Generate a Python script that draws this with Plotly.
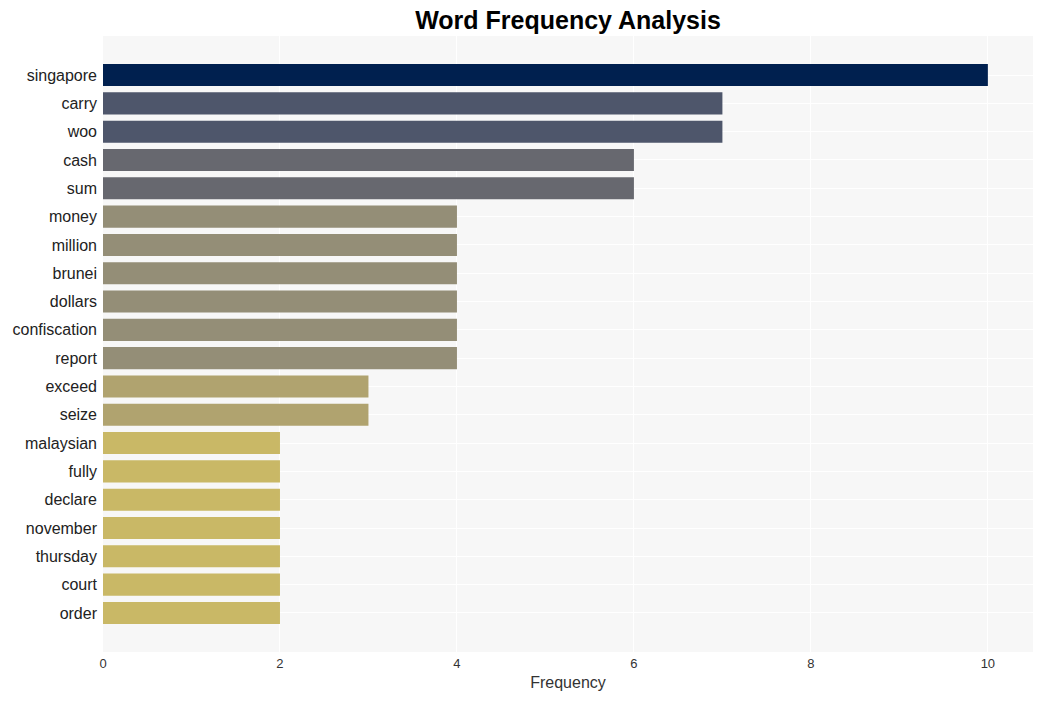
import plotly.graph_objects as go

words = ["singapore", "carry", "woo", "cash", "sum", "money", "million", "brunei",
         "dollars", "confiscation", "report", "exceed", "seize", "malaysian", "fully",
         "declare", "november", "thursday", "court", "order"]
freqs = [10, 7, 7, 6, 6, 4, 4, 4, 4, 4, 4, 3, 3, 2, 2, 2, 2, 2, 2, 2]

color_by_value = {10: "#00204f", 7: "#4e566b", 6: "#67686f", 4: "#948e77",
                  3: "#b0a36f", 2: "#c9b866"}
colors = [color_by_value[v] for v in freqs]

fig = go.Figure(go.Bar(
    x=freqs, y=words, orientation="h",
    marker=dict(color=colors, line=dict(width=0)),
))

fig.update_layout(
    width=1042, height=701,
    margin=dict(l=95, r=17, t=28, b=57, autoexpand=False),
    paper_bgcolor="white", plot_bgcolor="#f7f7f7",
    bargap=0.22,
    title=dict(text="<b>Word Frequency Analysis</b>", x=0.5, xref="paper", xanchor="center",
               y=0.982, yanchor="middle",
               font=dict(family="Liberation Sans, Arial", size=25, color="black")),
    font=dict(family="Liberation Sans, Arial", color="#333333"),
    showlegend=False,
)
fig.update_xaxes(range=[0, 10.51], dtick=2, showgrid=True, gridcolor="white", gridwidth=1,
                 zeroline=False, tickfont=dict(size=13, color="#333333"),
                 ticklabelstandoff=2, automargin=False,
                 title=dict(text="Frequency", font=dict(size=16, color="#333333"), standoff=6),
                 ticks="", showline=False)
fig.update_yaxes(categoryorder="array", categoryarray=words,
                 range=[len(words) - 1 + 1.38, -1.38], automargin=False,
                 showgrid=True, gridcolor="white", gridwidth=1, ticklabelstandoff=5,
                 tickfont=dict(size=16, color="#222222"), ticks="", showline=False)

fig.write_html("out.html")
